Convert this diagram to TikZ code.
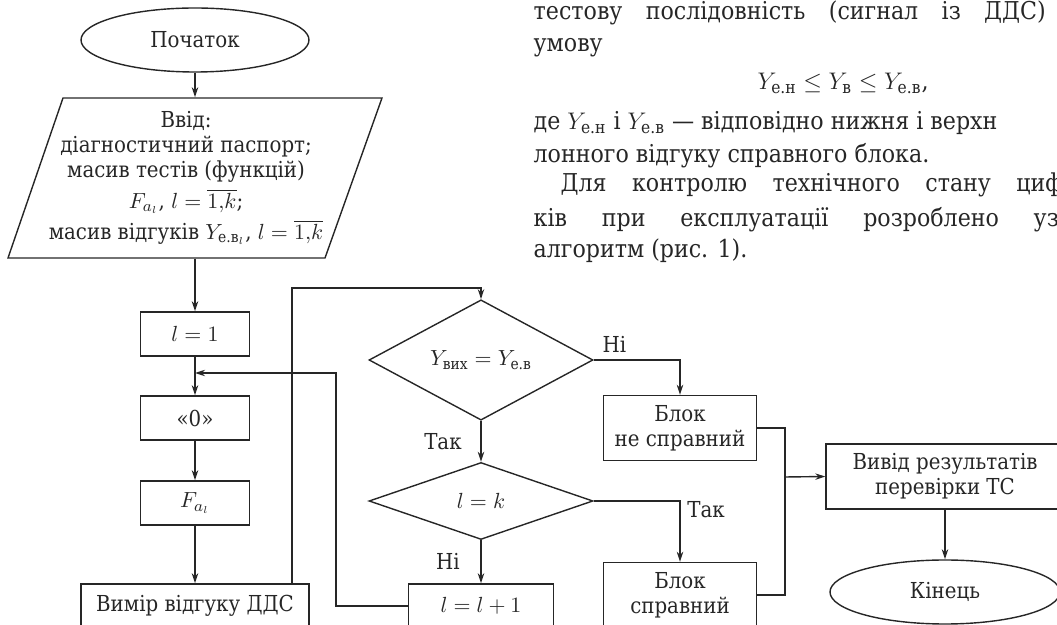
\documentclass[tikz,border=0pt]{standalone}
\usepackage{fontspec}
\setmainfont{DejaVu Serif Condensed}
\usepackage{amsmath}
\usetikzlibrary{arrows.meta, positioning, shapes.geometric}

\begin{document}
\begin{tikzpicture}[x=0.5pt, y=-0.5pt, node distance=40pt, on grid,
	block/.style={rectangle, draw, minimum width=54.5pt, minimum height=22pt, inner sep=1pt, align=center},
	decision/.style={diamond, draw, minimum width=112pt, minimum height=38.5pt, inner sep=0pt},
	terminal/.style={ellipse, draw, minimum width=114pt, minimum height=32pt},
	text line/.style={anchor=base west, inner sep=0pt, font=\fontsize{12.3}{14}\selectfont},
	color=black!85, line width=0.7pt,
	font=\fontsize{11}{12.5}\selectfont,
	->, >={Stealth[length=5pt, width=3.2pt]}]

\useasboundingbox (0,0) rectangle (1057,625);
\clip (0,0) rectangle (1057,625);

% Nodes
\node[terminal] (B0) at (195,40) {Початок};
\node[minimum width=187pt, minimum height=80pt, inner sep=0pt, align=center] (B1) at (186,178) {%
	Ввід:\\
	діагностичний паспорт;\\
	масив тестів (функцій)\\[3pt]
	$F_{a_l}$, $l=\overline{1{,}k}$;\\[3pt]
	масив відгуків $Y_{\text{е.в}_l}$, $l=\overline{1{,}k}$
};
\draw[-] (63,98) -- (382,98) -- (325,258) -- (8,258) -- cycle;

\node[block] (B2) at (195,334) {$l=1$};
\node[block, below=42pt of B2] (B3) {«0»};
\node[block, below=42.5pt of B3] (B4) {$F_{a_l}$};
\node[block, minimum width=114pt, below=51.5pt of B4] (B5) {Вимір відгуку ДДС};

\node[decision] (B6) at (481,360) {$Y_{\text{вих}}=Y_{\text{е.в}}$};
\node[decision, below=70.5pt of B6] (B7) {$l=k$};
\node[block, minimum width=72.5pt, below=52.5pt of B7] (B8) {$l=l+1$};

\node[block, minimum width=76.5pt, minimum height=32.5pt] (B9) at (680,428) {Блок\\не справний};
\node[block, minimum width=76.5pt, minimum height=32.5pt, below=83.5pt of B9] (B10) {Блок\\справний};
\node[block, minimum width=119pt, minimum height=32.5pt] (B11) at (945,476.5) {Вивід результатів\\перевірки ТС};
\node[terminal, minimum width=115pt, below=57.75pt of B11] (B12) {Кінець};

\coordinate (up) at (292,288);
\coordinate (back) at (336,373);
\coordinate (merge) at (785,477);

% Text beside the figure
\node[text line] (T1) at (533,20) {\makebox[256pt][s]{тестову послідовність (сигнал із ДДС)}};
\node[text line] (T2) at (533,52) {умову};
\node[text line] (T3) at (757,90) {$Y_{\text{е.н}}\le Y_{\text{в}}\le Y_{\text{е.в}}$,};
\node[text line] (T4) at (533,130) {де $Y_{\text{е.н}}$ і $Y_{\text{е.в}}$ — відповідно нижня і верхн};
\node[text line] (T5) at (533,163) {лонного відгуку справного блока.};
\node[text line] (T6) at (560,192) {\makebox[251pt][s]{Для контролю технічного стану циф}};
\node[text line] (T7) at (533,227) {\makebox[262.5pt][s]{ків при експлуатації розроблено уз}};
\node[text line] (T8) at (533,258) {алгоритм (рис. 1).};

% Transitions
\draw (B0) -- (B0 |- B1.north);
\draw (B1.south -| B2) -- (B2);
\draw (B2) -- (B3);
\draw (B3) -- (B4);
\draw (B4) -- (B5);
\draw (B5.north -| up) -- (up) -| (B6.north);
\draw (B6) -- node[left=6pt] {Так} (B7);
\draw (B7) -- node[left=7pt] {Ні} (B8);
\draw (B6.east) -| node[pos=0.12, above] {Ні} (B9.north);
\draw (B7.east) -| node[pos=0.57, right] {Так} (B10.north);
\draw (B8.west) -| (back) -- (B2.south |- back);
\draw[-] (B9.east) -| (merge);
\draw[-] (B10.east) -| (merge);
\draw (merge) -- (B11.west);
\draw (B11) -- (B12);
\end{tikzpicture}
\end{document}
